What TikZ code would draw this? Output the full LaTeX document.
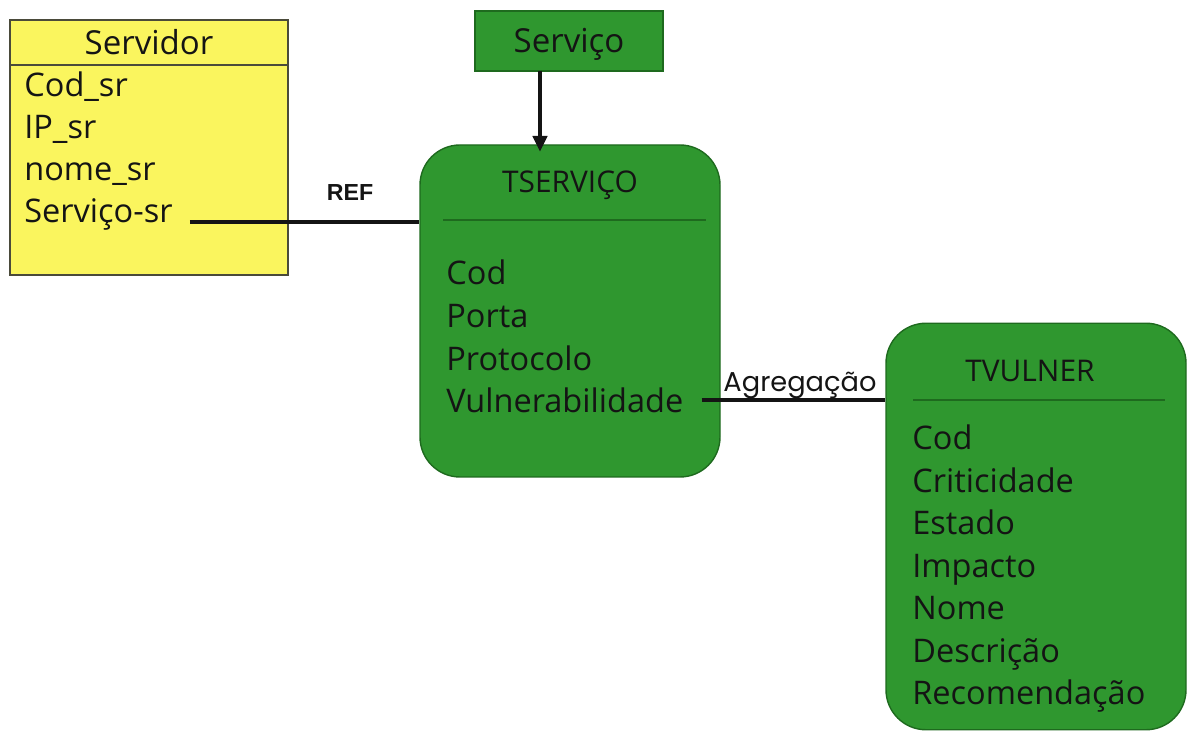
\documentclass[tikz,border=0pt]{standalone}
\usepackage{fontspec}
\setmainfont{Open Sans}
\newfontfamily\geofont{Poppins}
\newfontfamily\reffont{Liberation Sans}
\usepackage{xcolor}
\definecolor{erink}{HTML}{141414}
\definecolor{eryellow}{HTML}{FAF55E}
\definecolor{ergreen}{HTML}{2F972F}
\definecolor{ergreendk}{HTML}{1E6A1E}
\definecolor{erframe}{HTML}{4A4A3A}
\usetikzlibrary{arrows.meta,positioning}
\tikzset{
  erclass/.style ={rectangle, draw=erframe, fill=eryellow, line width=0.8pt,
                   inner sep=0pt},
  erbox/.style   ={rectangle, draw=ergreendk, fill=ergreen, line width=0.8pt,
                   inner sep=0pt},
  ertable/.style ={erbox, rounded corners=0.8cm},
  ertitle/.style ={anchor=base, font=\fontsize{18.8}{20}\selectfont, text=erink, inner sep=0pt},
  ertname/.style ={anchor=base, font=\fontsize{17}{19}\selectfont, text=erink, inner sep=0pt},
  erattr/.style  ={anchor=base west, font=\fontsize{18.5}{20}\selectfont, text=erink, inner sep=0pt},
  errule/.style  ={line width=0.6pt, draw=ergreendk},
  erlink/.style  ={line width=2.2pt, draw=erink},
  erarrow/.style ={-{Triangle[length=9pt,width=8pt]}, line width=2.2pt, draw=erink},
  erlbl/.style   ={anchor=base, text=erink, inner sep=0pt},
}
\begin{document}
\begin{tikzpicture}
  \useasboundingbox (0,0) rectangle (23.78,14.62);
  % Servidor
  \node[erclass, minimum width=5.56cm, minimum height=5.1cm] (srv) at (2.98,11.67) {};
  \node[ertitle] (srvt) at (2.98,13.52) {Servidor};
  \draw[line width=0.8pt, draw=erframe] (srv.west |- 0,13.32) -- (srv.east |- 0,13.32);
  \foreach \t [count=\i] in {Cod\_sr, IP\_sr, nome\_sr, Serviço-sr}
    \node[erattr] (srv\i) at (0.48,{12.68-0.84*(\i-1)}) {\t};
  % Serviço
  \node[erbox, minimum width=3.76cm, minimum height=1.2cm] (svc) at (11.38,13.8) {};
  \node[ertitle] (svct) at (11.38,13.56) {Serviço};
  % TSERVIÇO
  \node[ertable, minimum width=6.0cm, minimum height=6.64cm] (tsv) at (11.4,8.4) {};
  \node[ertname] (tsvt) at (11.4,10.76) {TSERVIÇO};
  \draw[errule] (8.86,10.22) -- (14.12,10.22);
  \foreach \t [count=\i] in {Cod, Porta, Protocolo, Vulnerabilidade}
    \node[erattr] (tsv\i) at (8.92,{8.92-0.853*(\i-1)}) {\t};
  % TVULNER
  \node[ertable, minimum width=6.0cm, minimum height=8.13cm] (tvu) at (20.72,4.09) {};
  \node[ertname] (tvut) at (20.6,6.98) {TVULNER};
  \draw[errule] (18.26,6.62) -- (23.3,6.62);
  \foreach \t [count=\i] in {Cod, Criticidade, Estado, Impacto, Nome, Descrição, Recomendação}
    \node[erattr] (tvu\i) at (18.24,{5.62-0.85*(\i-1)}) {\t};
  % ligacoes
  \coordinate (svcout) at (10.8,13.2);
  \draw[erarrow] (svcout) -- (svcout |- tsv.north) -- ++(0,-0.15);
  \draw[erlink] ([xshift=0.34cm,yshift=0.02cm]srv4.base east) -- ([yshift=0.02cm]srv4.base east -| tsv.west);
  \node[erlbl, font=\reffont\bfseries\fontsize{13.2}{15}\selectfont] (ref) at (7.0,10.6) {REF};
  \draw[erlink] ([xshift=0.36cm,yshift=0.26cm]tsv4.base east) -- ([yshift=0.26cm]tsv4.base east -| tvu.west);
  \node[erlbl, font=\geofont\fontsize{15.5}{17}\selectfont] (agr) at (16.0,6.78) {Agregação};
\end{tikzpicture}
\end{document}
